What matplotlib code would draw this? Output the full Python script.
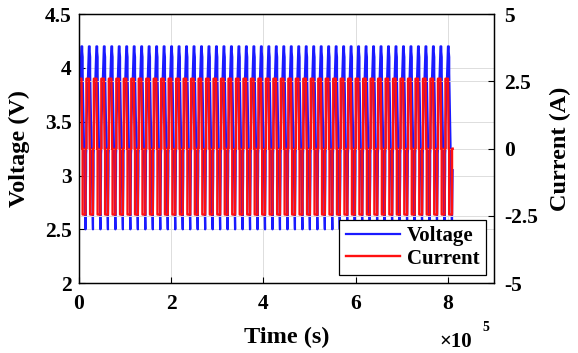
#!/usr/bin/env python3
"""Battery cycling: voltage and current versus time."""

import numpy as np
import matplotlib
matplotlib.use('Agg')
import matplotlib.pyplot as plt

plt.rcParams['font.family'] = ['Liberation Serif', 'DejaVu Serif']
plt.rcParams['font.weight'] = 'bold'

# one charge / discharge cycle (fraction of period)
CYCLE_FRAC = [0.00, 0.04, 0.04, 0.38, 0.48, 0.48, 0.54, 0.54, 0.92, 0.92, 1.00]
CYCLE_VOLT = [3.20, 3.25, 3.45, 4.20, 4.20, 4.15, 4.10, 3.95, 2.50, 2.62, 3.05]
CYCLE_CURR = [0.00, 0.00, 2.60, 2.60, 0.20, 0.00, 0.00, -2.45, -2.45, 0.00, 0.00]
N_CYCLES = 50
PERIOD = 16200.0  # s

X_TICKS = [0, 2e5, 4e5, 6e5, 8e5]
X_TICK_LABELS = ['0', '2', '4', '6', '8']
V_TICKS = [2, 2.5, 3, 3.5, 4, 4.5]
V_TICK_LABELS = ['2', '2.5', '3', '3.5', '4', '4.5']
I_TICKS = [-5, -2.5, 0, 2.5, 5]
I_TICK_LABELS = ['-5', '-2.5', '0', '2.5', '5']

# repeat the measured cycle over the whole test
frac = np.asarray(CYCLE_FRAC)
time = np.concatenate([(k + frac) * PERIOD for k in range(N_CYCLES)])
volt = np.tile(CYCLE_VOLT, N_CYCLES)
curr = np.tile(CYCLE_CURR, N_CYCLES)

fig = plt.figure(figsize=(5.78, 3.53), dpi=100)
ax = fig.add_axes([0.136, 0.198, 0.719, 0.762])
ax2 = ax.twinx()

l1, = ax.plot(time, volt, color='#1a1aff', lw=1.6, label='Voltage')
l2, = ax2.plot(time, curr, color='#ff1010', lw=1.7, label='Current')

ax.set_xlim(0, 9e5)
ax.set_ylim(2, 4.5)
ax2.set_ylim(-5, 5)

ax.set_xticks(X_TICKS)
ax.set_xticklabels(X_TICK_LABELS)
ax.set_yticks(V_TICKS)
ax.set_yticklabels(V_TICK_LABELS)
ax2.set_yticks(I_TICKS)
ax2.set_yticklabels(I_TICK_LABELS)

for a in (ax, ax2):
    a.tick_params(direction='in', labelsize=15.5, length=4, width=0.8, pad=5)
    a.grid(True, color='#dddddd', lw=0.7)
    for s in a.spines.values():
        s.set_linewidth(0.9)
ax.set_axisbelow(True)
ax2.set_axisbelow(True)
ax.tick_params(axis='x', pad=8)
ax2.tick_params(axis='y', pad=7)

ax.set_xlabel('Time (s)', fontsize=17.5, fontweight='bold', labelpad=9)
ax.set_ylabel('Voltage (V)', fontsize=17.5, fontweight='bold', labelpad=11)
ax2.set_ylabel('Current (A)', fontsize=17.5, fontweight='bold', labelpad=9)
fig.text(0.761, 0.017, '\u00d710', fontsize=15, ha='left', va='baseline')
fig.text(0.834, 0.062, '5', fontsize=10, ha='left', va='baseline')

leg = ax2.legend([l1, l2], ['Voltage', 'Current'], loc='lower right',
                 fontsize=15, handlelength=2.6, handletextpad=0.35,
                 frameon=True, fancybox=False,
                 borderaxespad=0.4, borderpad=0.3, labelspacing=0.1)
leg.get_frame().set_edgecolor('black')
leg.get_frame().set_linewidth(0.9)
leg.get_frame().set_alpha(1)

fig.savefig('out.png', dpi=100)
